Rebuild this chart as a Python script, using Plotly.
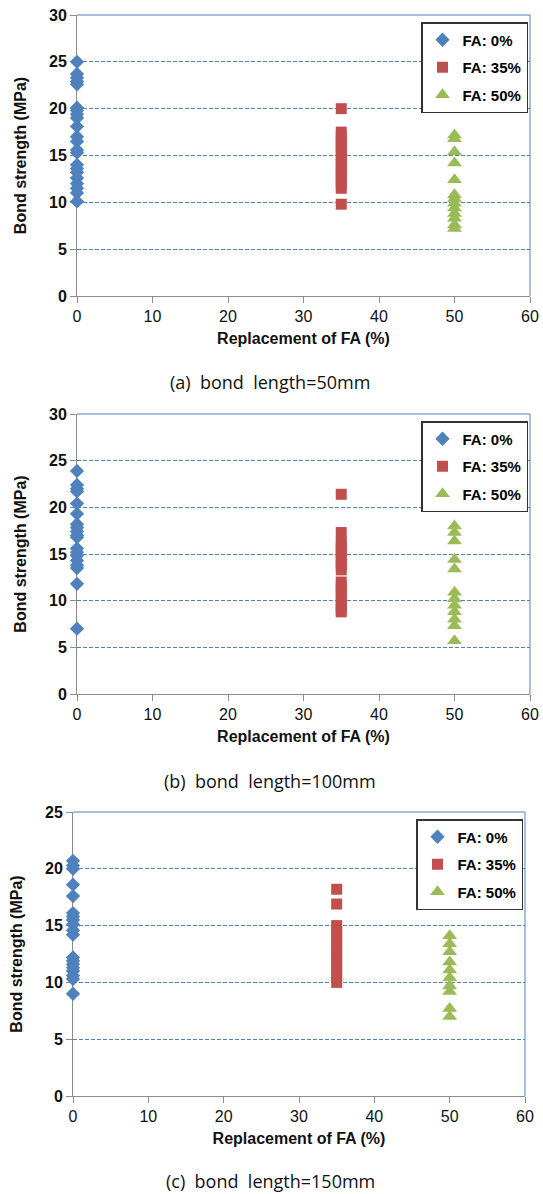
import plotly.graph_objects as go

# Replacement ratios of fly ash (%)
fa_levels = [0, 35, 50]
series_names = ["FA: 0%", "FA: 35%", "FA: 50%"]

# Bond strength (MPa), bond length = 50 mm
a_fa0 = [25.0, 23.7, 23.3, 22.9, 22.6, 20.1, 19.8, 19.4, 19.0, 18.1, 17.0, 16.5,
         15.6, 15.3, 14.0, 13.6, 13.2, 12.6, 12.0, 11.5, 11.0, 10.1]
a_fa35 = [20.0, 17.5, 17.0, 16.5, 16.0, 15.5, 15.0, 14.5, 14.0, 13.5, 13.0, 12.5,
          12.0, 11.5, 9.8]
a_fa50 = [17.2, 16.8, 15.4, 14.2, 12.4, 10.8, 10.4, 9.9, 9.4, 8.8, 8.3, 7.6, 7.2]

# Bond strength (MPa), bond length = 100 mm
b_fa0 = [23.9, 22.4, 22.0, 21.7, 20.4, 19.3, 18.2, 17.8, 17.4, 17.0, 16.8, 15.6,
         15.2, 14.8, 14.3, 13.8, 13.5, 11.8, 7.0]
b_fa35 = [21.4, 17.3, 16.3, 15.8, 15.3, 14.8, 14.3, 13.8, 13.3, 12.0, 11.5, 11.0,
          10.5, 10.0, 9.5, 9.0, 8.8]
b_fa50 = [18.0, 17.3, 16.4, 14.4, 13.4, 10.9, 10.2, 9.5, 8.8, 8.0, 7.3, 5.7]

# Bond strength (MPa), bond length = 150 mm
c_fa0 = [20.7, 20.3, 20.0, 18.6, 17.6, 16.1, 15.8, 15.5, 15.1, 14.6, 14.2, 12.2,
         11.9, 11.6, 11.3, 11.0, 10.6, 10.3, 9.0]
c_fa35 = [18.2, 16.9, 15.0, 14.5, 14.0, 13.5, 13.0, 12.5, 12.0, 11.5, 11.0, 10.5,
          10.0]
c_fa50 = [14.1, 13.4, 12.7, 11.8, 11.1, 10.4, 9.7, 9.2, 7.7, 7.0]

panels = [
    {"data": [a_fa0, a_fa35, a_fa50], "ymax": 30, "caption": "(a)  bond  length=50mm"},
    {"data": [b_fa0, b_fa35, b_fa50], "ymax": 30, "caption": "(b)  bond  length=100mm"},
    {"data": [c_fa0, c_fa35, c_fa50], "ymax": 25, "caption": "(c)  bond  length=150mm"},
]

W, H = 543, 1194

colors = ["#4F81BD", "#C0504D", "#9BBB59"]
symbols = ["diamond", "square", "triangle-up"]
sizes = [11, 11, 13]

# pixel boxes of each plot area: (left, right, top, bottom)
boxes = [(77, 530, 15, 296), (77, 530, 414, 694), (73, 525, 812, 1096)]
caption_y = [382, 781, 1181]


def px_x(p):
    return p / W


def px_y(p):
    return 1 - p / H


FONT = "Liberation Sans, Arial, sans-serif"

fig = go.Figure()
layout = dict(
    width=W, height=H,
    margin=dict(l=0, r=0, t=0, b=0, autoexpand=False),
    paper_bgcolor="white", plot_bgcolor="white",
    showlegend=True,
    font=dict(family=FONT, color="#000000"),
    annotations=[], shapes=[],
)

title_font = dict(family=FONT, size=16, color="#111111", weight="bold")

for i, (panel, box) in enumerate(zip(panels, boxes)):
    n = i + 1
    xa = "x" if n == 1 else f"x{n}"
    ya = "y" if n == 1 else f"y{n}"
    lg = "legend" if n == 1 else f"legend{n}"
    left, right, top, bottom = box

    for k, vals in enumerate(panel["data"]):
        fig.add_trace(go.Scatter(
            x=[fa_levels[k]] * len(vals), y=vals,
            mode="markers", name=series_names[k],
            marker=dict(symbol=symbols[k], color=colors[k], size=sizes[k],
                        line=dict(width=0)),
            cliponaxis=False,
            xaxis=xa, yaxis=ya, legend=lg, legendgroup=f"{n}-{k}",
        ))

    xkey = "xaxis" if n == 1 else f"xaxis{n}"
    ykey = "yaxis" if n == 1 else f"yaxis{n}"
    layout[xkey] = dict(
        domain=[px_x(left), px_x(right)], anchor=ya, automargin=False,
        range=[0, 60], dtick=10, tick0=0,
        showgrid=False, zeroline=False,
        showline=True, linecolor="#8C8C8C", linewidth=1,
        ticks="outside", ticklen=6, tickcolor="#8C8C8C",
        tickfont=dict(family=FONT, size=16, color="#111111"),
        layer="below traces",
        title=dict(text="Replacement of FA (%)", font=title_font, standoff=8),
    )
    layout[ykey] = dict(
        domain=[px_y(bottom), px_y(top)], anchor=xa, automargin=False,
        range=[0, panel["ymax"]], dtick=5, tick0=0,
        showgrid=True, gridcolor="#4F81BD", griddash="4px,2px", gridwidth=1,
        zeroline=False,
        showline=True, linecolor="#8C8C8C", linewidth=1,
        ticks="outside", ticklen=6, tickcolor="#8C8C8C",
        tickfont=dict(family=FONT, size=16, color="#111111", weight="bold"),
        layer="below traces",
        title=dict(text="Bond strength (MPa)", font=title_font, standoff=18),
    )
    layout[lg] = dict(
        x=px_x(right - 2), y=px_y(top + 7), xanchor="right", yanchor="top",
        bgcolor="white", bordercolor="#333333", borderwidth=1.5,
        font=dict(family=FONT, size=15, color="#000000", weight="bold"),
        tracegroupgap=5, itemwidth=30,
    )

    # solid blue border on the top and right of the plot area
    layout["shapes"].append(dict(
        type="line", xref=f"{xa} domain", yref=f"{ya} domain",
        x0=0, x1=1, y0=1, y1=1, line=dict(color="#4F81BD", width=1), layer="below"))
    layout["shapes"].append(dict(
        type="line", xref=f"{xa} domain", yref=f"{ya} domain",
        x0=1, x1=1, y0=0, y1=1, line=dict(color="#4F81BD", width=1), layer="below"))

    layout["annotations"].append(dict(
        text=panel["caption"], xref="paper", yref="paper",
        x=px_x(270), y=px_y(caption_y[i]), xanchor="center", yanchor="middle",
        showarrow=False,
        font=dict(family="Open Sans, Noto Sans, sans-serif", size=18, color="#111111"),
    ))

fig.update_layout(**layout)

# page body without its default margin so the figure fills the window
page_style = (
    "document.body.style.margin='0';"
    "document.body.style.overflow='hidden';"
    "document.documentElement.style.overflow='hidden';"
)
fig.write_html("out.html", post_script=page_style)
